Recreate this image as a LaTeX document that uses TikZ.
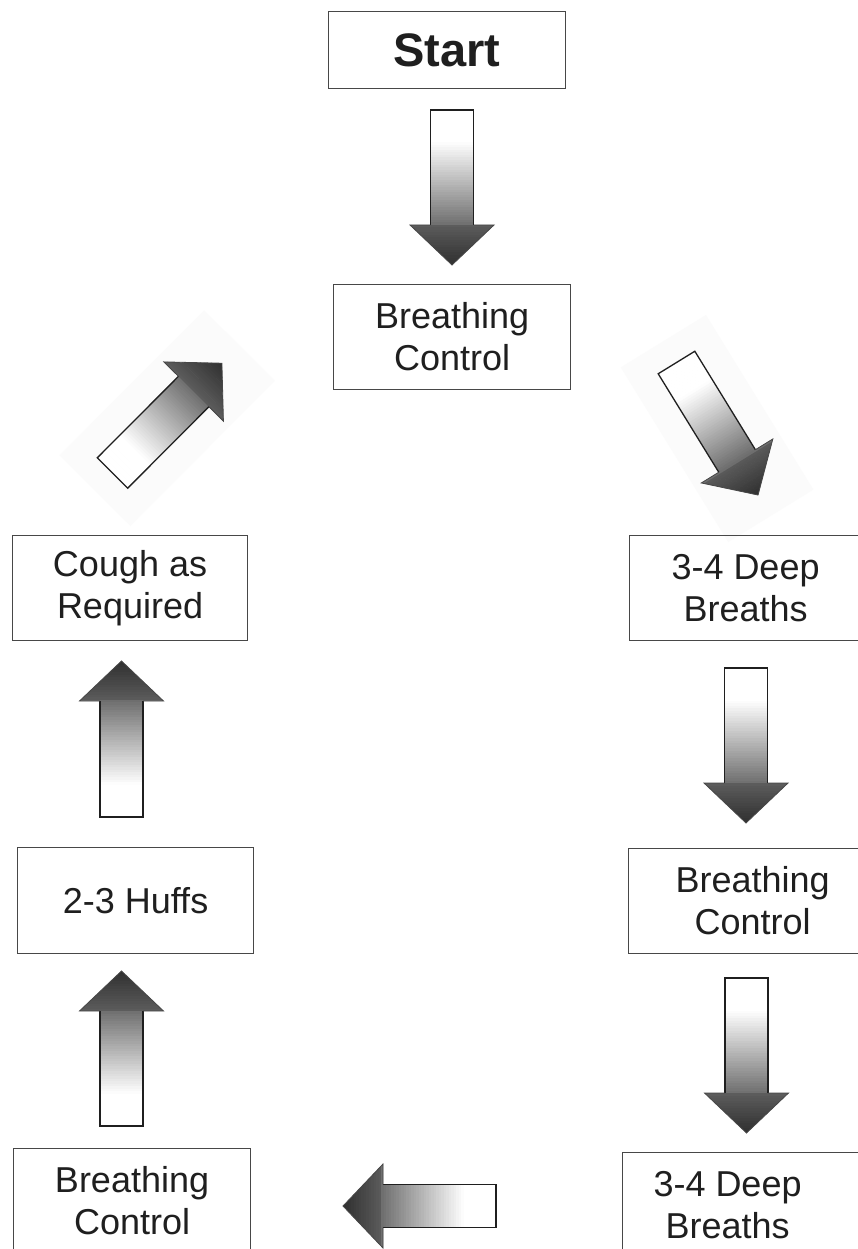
\documentclass[tikz,border=0pt]{standalone}
\usepackage{fontspec}
\setmainfont{Liberation Sans}
\newcommand\blockarrow[4]{%
  \begin{scope}[shift={(#2)}, rotate=#3]
    \coordinate (#1-tail) at (0,0);
    \coordinate (#1-tip) at (#4,0);
    \begin{scope}
      \clip (0,-21.5) -- (#4-40,-21.5) -- (#4-40,-42) -- (#4,0) -- (#4-40,42) -- (#4-40,21.5) -- (0,21.5) -- cycle;
      \foreach \x in {0,2.5,...,160} {
        \pgfmathsetmacro\t{\x/#4}
        \pgfmathsetmacro\p{\t<0.2 ? 0 : (\t<0.74 ? (\t-0.2)/0.54*57 : 64+(\t-0.74)/0.26*18)}
        \fill[black!\p] (\x,-45) rectangle (\x+3,45);
      }
    \end{scope}
    \draw[arrowline] (#4-40,-21.5) -- (0,-21.5) -- (0,21.5) -- (#4-40,21.5);
    \draw[headline] (#4-40,21.5) -- (#4-40,42) -- (#4,0) -- (#4-40,-42) -- (#4-40,-21.5);
  \end{scope}}
\begin{document}
\begin{tikzpicture}[x=1pt,y=1pt,
  box/.style={draw=black!72, line width=1.1pt, anchor=north west, inner sep=0pt,
    minimum height=105pt, align=center, text=black!88, font=\fontsize{36}{42}\selectfont},
  arrowline/.style={draw=black!88, line width=1.3pt, line join=miter},
  headline/.style={draw=black!72, line width=0.8pt, line join=miter},
  faint/.style={fill=black!1.5}]
\fill[white] (0,0) rectangle (858,-1249);
\clip (0,0) rectangle (858,-1249);

% faint image backgrounds of the diagonal arrows
\begin{scope}[shift={(676.5,-362.5)}, rotate=-58.4]
  \fill[faint] (-25,-50) rectangle (180,50);
\end{scope}
\begin{scope}[shift={(112.5,-473)}, rotate=45.1]
  \fill[faint] (-25,-50) rectangle (180,50);
\end{scope}

% boxes
\node[box, minimum width=237pt, minimum height=77pt, font=\bfseries\fontsize{47}{50}\selectfont] (start) at (328,-11) {Start};
\node[box, minimum width=237pt] (bc1) at (333,-284) {Breathing\\Control};
\node[box] (dd1) at (629,-535) {\parbox{232pt}{\centering 3-4 Deep\\Breaths}\hspace{30pt}};
\node[box] (bc2) at (628,-848) {\parbox{248pt}{\centering Breathing\\Control}\hspace{30pt}};
\node[box] (dd2) at (622,-1152) {\parbox{210pt}{\centering 3-4 Deep\\Breaths}\hspace{30pt}};
\node[box, minimum width=237pt] (bc3) at (13,-1148) {Breathing\\Control};
\node[box, minimum width=236pt, minimum height=106pt] (huffs) at (17,-847) {2-3 Huffs};
\node[box, minimum width=235pt] (cough) at (12,-535) {Cough as\\Required};

% block arrows between the boxes
\blockarrow{a1}{452,-110}{-90}{155}
\blockarrow{a2}{676.5,-362.5}{-58.4}{155.6}
\blockarrow{a3}{746,-668}{-90}{155}
\blockarrow{a4}{746.5,-978}{-90}{155}
\blockarrow{a5}{496,-1206}{180}{153}
\blockarrow{a6}{121.5,-1126}{90}{155}
\blockarrow{a7}{121.5,-817}{90}{156}
\blockarrow{a8}{112.5,-473}{45.1}{155}
\end{tikzpicture}
\end{document}
